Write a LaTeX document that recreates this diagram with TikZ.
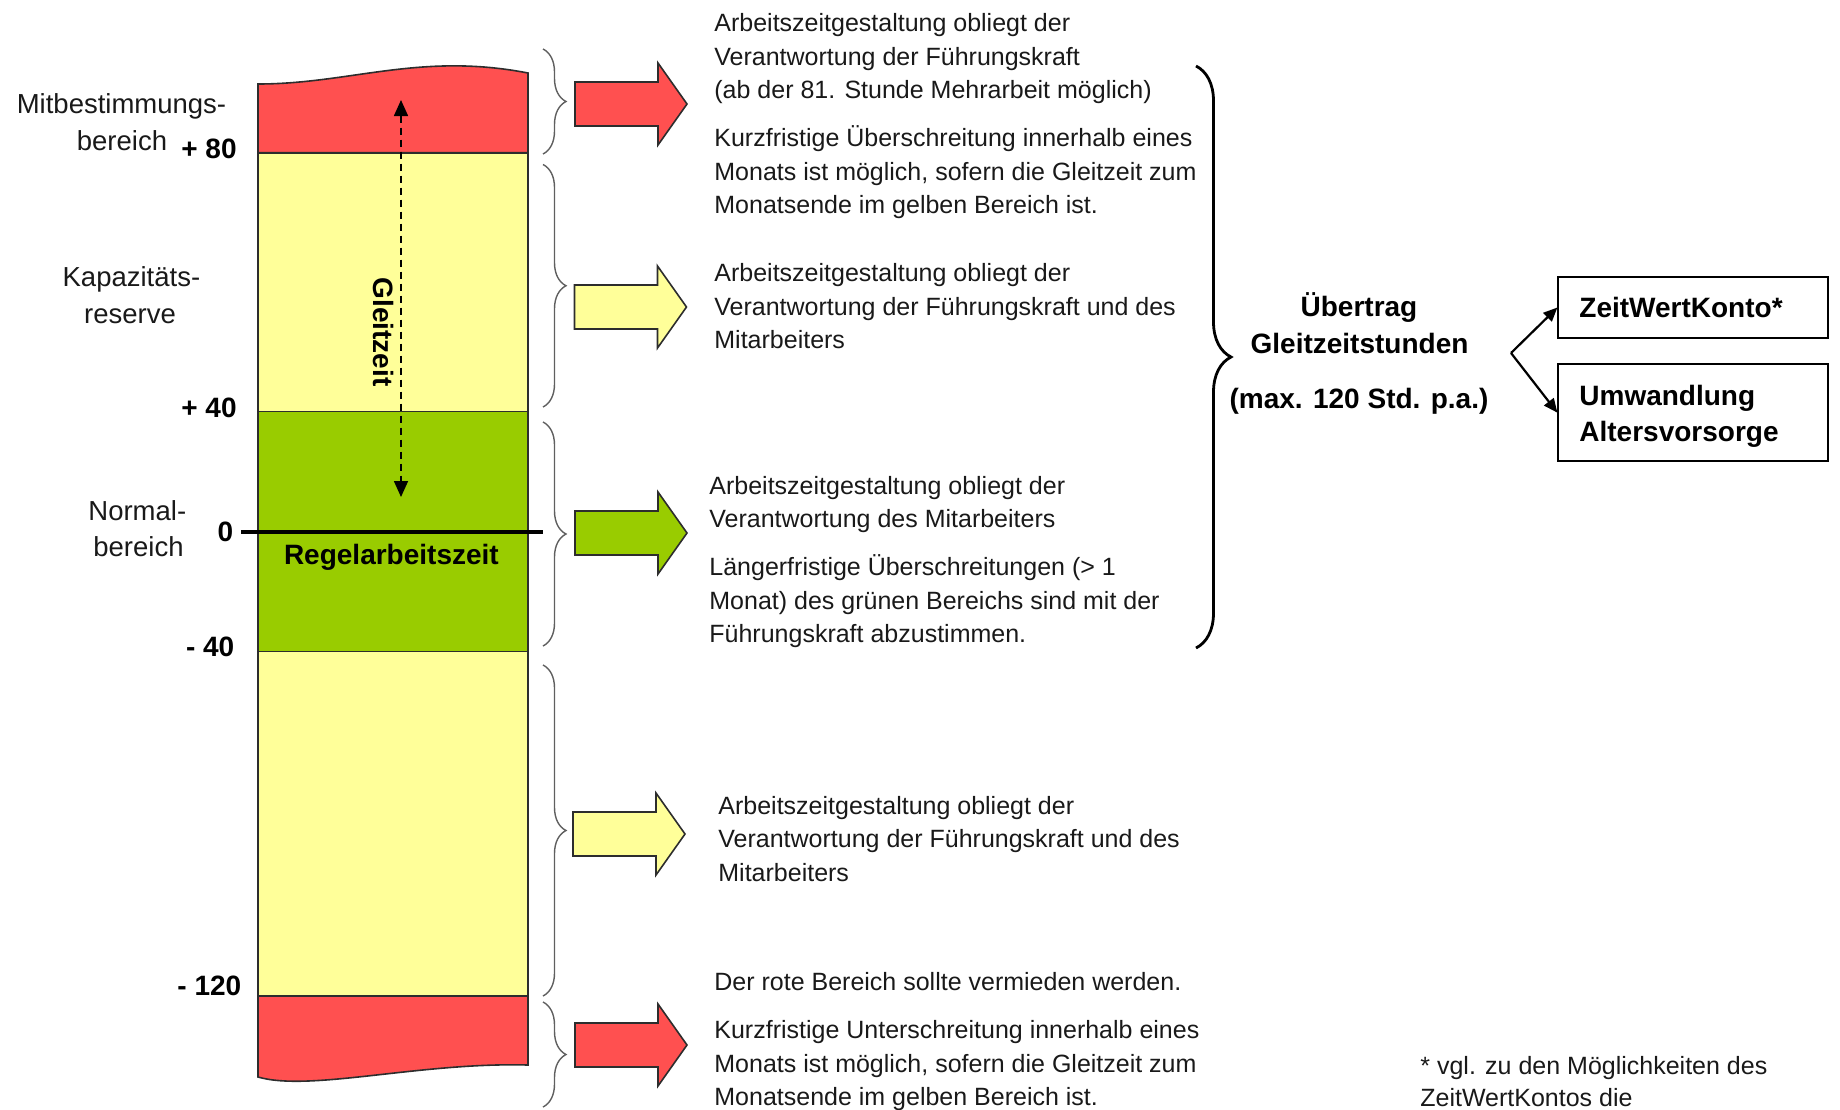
\documentclass[tikz,border=0pt]{standalone}
\usepackage{fontspec}
\setmainfont{Liberation Sans}
\usetikzlibrary{arrows.meta,decorations.pathreplacing}
\definecolor{redz}{RGB}{255,80,80}
\definecolor{yelz}{RGB}{255,255,153}
\definecolor{grnz}{RGB}{153,204,0}
\definecolor{edgez}{RGB}{45,45,45}
\definecolor{bracez}{RGB}{95,95,95}
\definecolor{txtz}{RGB}{25,25,25}
\newcommand{\blockarrowz}[3]{%
  \begin{scope}[shift={(#1,#2)}]
    \draw[blk,fill=#3] (0,-22) -- (83,-22) -- (83,-41) -- (112,0) -- (83,41) -- (83,22) -- (0,22) -- cycle;
  \end{scope}}
\newcommand{\fs}{\rule{0pt}{12.5pt}}
\begin{document}
\begin{tikzpicture}[x=0.5pt,y=-0.5pt,
  body/.style={font=\fontsize{12.5pt}{16.7pt}\selectfont, text=txtz, inner sep=0pt, align=left, anchor=north west},
  side/.style={font=\fontsize{13.75pt}{16pt}\selectfont, text=txtz, inner sep=0pt, anchor=base},
  num/.style={font=\fontsize{14pt}{16pt}\selectfont\bfseries, inner sep=0pt, anchor=base east},
  boldt/.style={font=\fontsize{14pt}{16pt}\selectfont\bfseries, inner sep=0pt},
  brsmall/.style={decorate, decoration={brace, amplitude=11.5pt}, draw=bracez, line width=0.7pt},
  brbig/.style={decorate, decoration={brace, amplitude=17.5pt}, draw=black, line width=1.4pt},
  blk/.style={draw=edgez, line width=0.8pt, line join=miter},
  sect/.style={draw=edgez, line width=0.8pt},
  zbox/.style={draw=black, line width=1pt, minimum width=135pt, inner xsep=10.5pt, inner ysep=0pt, text width=114pt, align=left, font=\fontsize{14pt}{18.25pt}\selectfont\bfseries},
  conn/.style={line width=1.1pt, -{Triangle[length=7pt,width=6pt]}}
]
\useasboundingbox (0,0) rectangle (1840,1109);
\clip (0,0) rectangle (1840,1109);

% column sections
\draw[sect,fill=redz] (258,152.7) -- (258,84) .. controls (350,84) and (420,52) .. (528,73) -- (528,152.7) -- cycle;
\draw[sect,fill=yelz] (258,152.7) rectangle (528,411.5);
\draw[sect,fill=grnz] (258,411.5) rectangle (528,651.5);
\draw[sect,fill=yelz] (258,651.5) rectangle (528,996);
\draw[sect,fill=redz] (258,996) -- (528,996) -- (528,1065) .. controls (420,1062) and (310,1092) .. (258,1077) -- cycle;

% zero line
\draw[line width=2pt] (241,531.6) -- (543,531.6);

% Gleitzeit dashed arrow
\coordinate (gtop) at (401,100);
\coordinate (gbot) at (401,497);
\draw[line width=0.8pt, dash pattern=on 3.5pt off 2.5pt, {Triangle[length=8pt,width=7pt]}-{Triangle[length=8pt,width=7pt]}] (gtop) -- (gbot);
\node[boldt, rotate=-90] (gleit) at (384,332) {Gleitzeit};
\node[boldt, anchor=base] (regel) at (391.4,564) {Regelarbeitszeit};

% left labels
\node[side] (l1a) at (121.5,113.5) {Mitbestimmungs-};
\node[side] (l1b) at (122,150) {bereich};
\node[side] (l2a) at (131.4,286.5) {Kapazitäts-};
\node[side] (l2b) at (130,323.5) {reserve};
\node[side] (l3a) at (137.3,520.5) {Normal-};
\node[side] (l3b) at (138.5,556) {bereich};

% numbers
\node[num] (n80) at (237,158) {+ 80};
\node[num] (n40) at (237,417) {+ 40};
\node[num] (n0) at (233.5,541.6) {0};
\node[num] (nm40) at (234.7,656.6) {- 40};
\node[num] (nm120) at (241.7,995.7) {- 120};

% small braces
\draw[brsmall] (543,49) -- (543,154);
\draw[brsmall] (543,164.5) -- (543,407);
\draw[brsmall] (543,422) -- (543,646);
\draw[brsmall] (543,665) -- (543,996);
\draw[brsmall] (543,1002) -- (543,1107);

% block arrows
\blockarrowz{575}{104}{redz}
\blockarrowz{574.5}{307}{yelz}
\blockarrowz{575}{533}{grnz}
\blockarrowz{573}{834}{yelz}
\blockarrowz{575}{1045}{redz}

% texts
\node[body] (p1a) at (714,6.5) {\fs Arbeitszeitgestaltung obliegt der\\Verantwortung der Führungskraft\\(ab der 81. Stunde Mehrarbeit möglich)};
\node[body] (p1b) at (714,121.5) {\fs Kurzfristige Überschreitung innerhalb eines\\Monats ist möglich, sofern die Gleitzeit zum\\Monatsende im gelben Bereich ist.};
\node[body] (p2) at (714,256.3) {\fs Arbeitszeitgestaltung obliegt der\\Verantwortung der Führungskraft und des\\Mitarbeiters};
\node[body] (p3a) at (709,468.7) {\fs Arbeitszeitgestaltung obliegt der\\Verantwortung des Mitarbeiters};
\node[body] (p3b) at (709,550.5) {\fs Längerfristige Überschreitungen (> 1\\Monat) des grünen Bereichs sind mit der\\Führungskraft abzustimmen.};
\node[body] (p4) at (718,789) {\fs Arbeitszeitgestaltung obliegt der\\Verantwortung der Führungskraft und des\\Mitarbeiters};
\node[body] (p5a) at (714,965) {\fs Der rote Bereich sollte vermieden werden.};
\node[body] (p5b) at (714,1013.5) {\fs Kurzfristige Unterschreitung innerhalb eines\\Monats ist möglich, sofern die Gleitzeit zum\\Monatsende im gelben Bereich ist.};
\node[body, font=\fontsize{12.5pt}{15.9pt}\selectfont] (foot) at (1420,1049) {\fs * vgl. zu den Möglichkeiten des\\ZeitWertKontos die};

% big brace
\draw[brbig] (1196,66) -- (1196,648);

% Übertrag
\node[boldt, anchor=base] (ue1) at (1359,316.5) {Übertrag};
\node[boldt, anchor=base] (ue2) at (1359.5,353) {Gleitzeitstunden};
\node[boldt, anchor=base] (ue3) at (1359,408) {(max. 120 Std. p.a.)};

% boxes
\node[zbox, minimum height=30.5pt] (zwk) at (1693.4,307.5) {ZeitWertKonto*};
\node[zbox, minimum height=48.75pt] (alt) at (1693.4,412.7) {\rule{0pt}{13.7pt}Umwandlung\\Altersvorsorge};
\coordinate (branch) at (1511,353);
\draw[conn] (branch) -- (zwk.west);
\draw[conn] (branch) -- (alt.west);
\end{tikzpicture}
\end{document}
